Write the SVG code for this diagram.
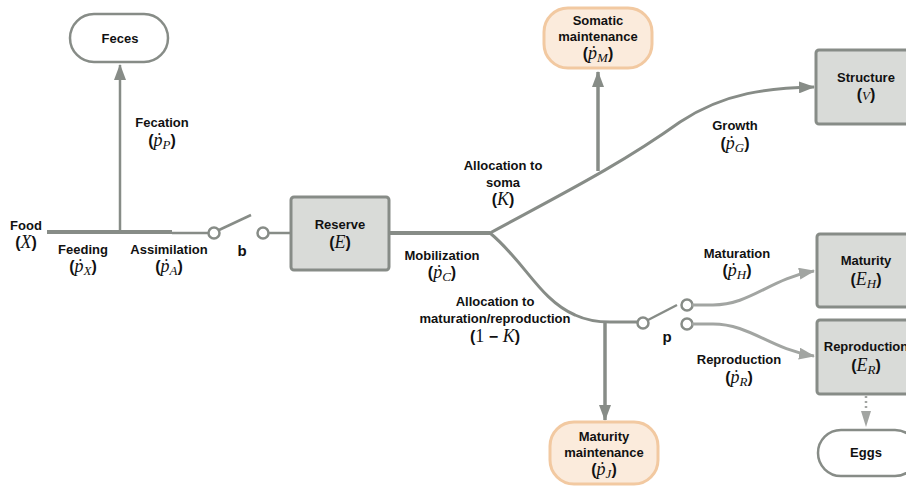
<svg xmlns="http://www.w3.org/2000/svg" width="906" height="486" viewBox="0 0 906 486">
<style>
.lbl{font-family:"Liberation Sans",Arial,sans-serif;font-weight:bold;font-size:13px;fill:#111;text-anchor:middle}
.big{font-size:15px}
.m{font-family:"Liberation Serif","DejaVu Serif",serif;font-style:italic;font-weight:normal;font-size:18px}
.s{font-size:13px}
.up{font-style:normal}
.par{font-family:"Liberation Sans",Arial,sans-serif;font-weight:bold;font-style:normal;font-size:16px}
.box{fill:#d9dbd8;stroke:#878c87;stroke-width:3}
.pill{fill:#fff;stroke:#878c87;stroke-width:2.5}
.opill{fill:#fbebdc;stroke:#f2c9a1;stroke-width:3}
.ln{fill:none;stroke:#878c87}
.lt{fill:none;stroke:#a2a5a2;stroke-width:3}
.sw{fill:#fff;stroke:#878c87;stroke-width:2.5}
</style>
<defs>
<marker id="ah" viewBox="0 0 16 12" refX="15" refY="6" markerWidth="16" markerHeight="12" markerUnits="userSpaceOnUse" orient="auto"><path d="M0,0 L16,6 L0,12 z" fill="#878c87"/></marker>
<marker id="ahl" viewBox="0 0 16 12" refX="15" refY="6" markerWidth="16" markerHeight="12" markerUnits="userSpaceOnUse" orient="auto"><path d="M0,0 L16,6 L0,12 z" fill="#a2a5a2"/></marker>
</defs>

<g id="connectors">
<line class="ln" x1="47" y1="232" x2="172" y2="232" stroke-width="4"/>
<line class="ln" x1="120" y1="232" x2="120" y2="65" stroke-width="2.5" marker-end="url(#ah)"/>
<line class="ln" x1="172" y1="233" x2="208" y2="233" stroke-width="2.5"/>
<line class="ln" x1="219" y1="230" x2="251" y2="215" stroke-width="2.5"/>
<line class="ln" x1="268" y1="233" x2="291" y2="233" stroke-width="2.5"/>
<circle class="sw" cx="214" cy="233" r="5.5"/>
<circle class="sw" cx="263" cy="233" r="5.5"/>
<line class="ln" x1="389" y1="233" x2="490" y2="233" stroke-width="4"/>
<path class="ln" stroke-width="3" d="M490,233 C560,195 620,165 680,122 C725,92 770,88 814,87" marker-end="url(#ah)"/>
<line class="ln" x1="598" y1="171" x2="598" y2="72" stroke-width="3.5" marker-end="url(#ah)"/>
<path class="ln" stroke-width="3" d="M490,233 C525,262 540,300 575,315 C588,321 598,322 610,322 L637,322"/>
<line class="ln" x1="605" y1="322" x2="605" y2="420" stroke-width="3.5" marker-end="url(#ah)"/>
<circle class="sw" cx="643" cy="323" r="5.5"/>
<line class="ln" x1="648" y1="320" x2="677" y2="305" stroke-width="2.5"/>
<circle class="sw" cx="687" cy="305" r="5.5"/>
<circle class="sw" cx="687" cy="324" r="5.5"/>
<path class="lt" d="M692,305 L713,305 C750,305 770,279 814,271" marker-end="url(#ahl)"/>
<path class="lt" d="M692,324 L713,324 C750,324 770,349 814,356" marker-end="url(#ahl)"/>
<line x1="866" y1="396" x2="866" y2="411" stroke="#a2a5a2" stroke-width="2.5" stroke-dasharray="2,3"/>
<path d="M861,411 L871,411 L866,427 z" fill="#a2a5a2"/>
</g>

<g id="feces"><rect class="pill" x="70" y="14" width="98" height="48" rx="24"/><text class="lbl" x="120" y="43">Feces</text></g>
<g id="reserve"><rect class="box" x="291" y="197" width="98" height="73" rx="3"/><text class="lbl" x="340" y="229">Reserve</text><text class="lbl" x="340" y="248"><tspan class="par">(</tspan><tspan class="m">E</tspan><tspan class="par">)</tspan></text></g>
<g id="somatic"><rect class="opill" x="544" y="8" width="108" height="60" rx="24"/><text class="lbl" x="598" y="25">Somatic</text><text class="lbl" x="598" y="41">maintenance</text><text class="lbl" x="598" y="59"><tspan class="par">(</tspan><tspan class="m">ṗ</tspan><tspan class="m s" dy="3">M</tspan><tspan class="par" dy="-3">)</tspan></text></g>
<g id="structure"><rect class="box" x="816" y="50" width="100" height="74" rx="3"/><text class="lbl" x="866" y="82">Structure</text><text class="lbl" x="866" y="100"><tspan class="par">(</tspan><tspan class="m s">V</tspan><tspan class="par">)</tspan></text></g>
<g id="maturity"><rect class="box" x="817" y="234" width="100" height="73" rx="3"/><text class="lbl" x="866" y="265">Maturity</text><text class="lbl" x="866" y="285"><tspan class="par">(</tspan><tspan class="m">E</tspan><tspan class="m s" dy="3">H</tspan><tspan class="par" dy="-3">)</tspan></text></g>
<g id="reproduction"><rect class="box" x="817" y="320" width="100" height="74" rx="3"/><text class="lbl" x="866" y="351">Reproduction</text><text class="lbl" x="866" y="371"><tspan class="par">(</tspan><tspan class="m">E</tspan><tspan class="m s" dy="3">R</tspan><tspan class="par" dy="-3">)</tspan></text></g>
<g id="eggs"><rect class="pill" x="818" y="430" width="100" height="46" rx="23"/><text class="lbl" x="866" y="457">Eggs</text></g>
<g id="maturity-maintenance"><rect class="opill" x="550" y="422" width="108" height="62" rx="24"/><text class="lbl" x="604" y="441">Maturity</text><text class="lbl" x="604" y="457">maintenance</text><text class="lbl" x="604" y="475"><tspan class="par">(</tspan><tspan class="m">ṗ</tspan><tspan class="m s" dy="3">J</tspan><tspan class="par" dy="-3">)</tspan></text></g>

<g id="labels">
<text class="lbl" x="26" y="230">Food</text>
<text class="lbl" x="26" y="248"><tspan class="par">(</tspan><tspan class="m">X</tspan><tspan class="par">)</tspan></text>
<text class="lbl" x="162" y="127">Fecation</text>
<text class="lbl" x="162" y="146"><tspan class="par">(</tspan><tspan class="m">ṗ</tspan><tspan class="m s" dy="3">P</tspan><tspan class="par" dy="-3">)</tspan></text>
<text class="lbl" x="83" y="254">Feeding</text>
<text class="lbl" x="83" y="272"><tspan class="par">(</tspan><tspan class="m">ṗ</tspan><tspan class="m s" dy="3">X</tspan><tspan class="par" dy="-3">)</tspan></text>
<text class="lbl" x="169" y="254">Assimilation</text>
<text class="lbl" x="169" y="272"><tspan class="par">(</tspan><tspan class="m">ṗ</tspan><tspan class="m s" dy="3">A</tspan><tspan class="par" dy="-3">)</tspan></text>
<text class="lbl big" x="242" y="256">b</text>
<text class="lbl" x="503" y="170">Allocation to</text>
<text class="lbl" x="503" y="187">soma</text>
<text class="lbl" x="503" y="205"><tspan class="par">(</tspan><tspan class="m">K</tspan><tspan class="par">)</tspan></text>
<text class="lbl" x="442" y="260">Mobilization</text>
<text class="lbl" x="442" y="278"><tspan class="par">(</tspan><tspan class="m">ṗ</tspan><tspan class="m s" dy="3">C</tspan><tspan class="par" dy="-3">)</tspan></text>
<text class="lbl" x="495" y="306">Allocation to</text>
<text class="lbl" x="495" y="323">maturation/reproduction</text>
<text class="lbl" x="495" y="342"><tspan class="par">(</tspan><tspan class="m up">1 </tspan><tspan class="par">−</tspan><tspan class="m"> K</tspan><tspan class="par">)</tspan></text>
<text class="lbl big" x="667" y="342">p</text>
<text class="lbl" x="735" y="130">Growth</text>
<text class="lbl" x="735" y="149"><tspan class="par">(</tspan><tspan class="m">ṗ</tspan><tspan class="m s" dy="3">G</tspan><tspan class="par" dy="-3">)</tspan></text>
<text class="lbl" x="737" y="258">Maturation</text>
<text class="lbl" x="737" y="276"><tspan class="par">(</tspan><tspan class="m">ṗ</tspan><tspan class="m s" dy="3">H</tspan><tspan class="par" dy="-3">)</tspan></text>
<text class="lbl" x="739" y="364">Reproduction</text>
<text class="lbl" x="739" y="383"><tspan class="par">(</tspan><tspan class="m">ṗ</tspan><tspan class="m s" dy="3">R</tspan><tspan class="par" dy="-3">)</tspan></text>
</g>
</svg>
